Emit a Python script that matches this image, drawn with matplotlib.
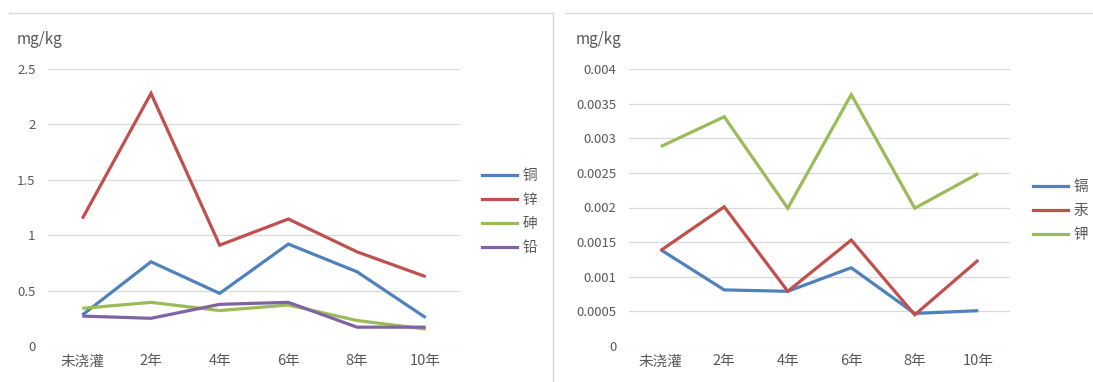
import matplotlib
matplotlib.use("Agg")
import matplotlib.pyplot as plt
from matplotlib.lines import Line2D

plt.rcParams['font.family'] = ['Noto Sans CJK SC', 'DejaVu Sans']

# Categories (years of irrigation)
categories = ["未浇灌", "2年", "4年", "6年", "8年", "10年"]

# Left panel: heavy metals, mg/kg
left_names = ["铜", "锌", "砷", "铅"]
copper = [0.28, 0.76, 0.475, 0.92, 0.67, 0.256]
zinc = [1.15, 2.28, 0.91, 1.146, 0.85, 0.626]
arsenic = [0.34, 0.394, 0.32, 0.37, 0.23, 0.153]
lead = [0.27, 0.25, 0.376, 0.394, 0.17, 0.17]
left_series = [copper, zinc, arsenic, lead]
left_ticks = [0, 0.5, 1, 1.5, 2, 2.5]
left_ticklabels = ["0", "0.5", "1", "1.5", "2", "2.5"]

# Right panel: trace elements, mg/kg
right_names = ["镉", "汞", "钾"]
cadmium = [0.00139, 0.00081, 0.00079, 0.00113, 0.00047, 0.00051]
mercury = [0.00138, 0.00201, 0.00079, 0.00153, 0.00045, 0.00124]
potassium = [0.00288, 0.00331, 0.00199, 0.00363, 0.00199, 0.00249]
right_series = [cadmium, mercury, potassium]
right_ticks = [0, 0.0005, 0.001, 0.0015, 0.002, 0.0025, 0.003, 0.0035, 0.004]
right_ticklabels = ["0", "0.0005", "0.001", "0.0015", "0.002",
                    "0.0025", "0.003", "0.0035", "0.004"]

left_colors = ["#4f81bd", "#c0504d", "#9bbb59", "#8064a2"]
right_colors = ["#4f81bd", "#c0504d", "#9bbb59"]

W, H = 1093, 382
fig = plt.figure(figsize=(W / 100, H / 100), dpi=100)
fig.patch.set_facecolor("white")

TEXT = "#595959"
GRID = "#d9d9d9"


def px_rect(x0, y_top, x1, y_bot):
    return [x0 / W, 1 - y_bot / H, (x1 - x0) / W, (y_bot - y_top) / H]


def draw_panel(rect, series, names, colors, ticks, ticklabels, unit_x, legend_x,
               legend_y):
    ax = fig.add_axes(rect)
    xs = range(len(categories))
    for vals, name, c in zip(series, names, colors):
        ax.plot(xs, vals, color=c, lw=2.3, label=name, solid_joinstyle="miter",
                solid_capstyle="butt")
    ax.set_xlim(-0.5, len(categories) - 0.5)
    ax.set_ylim(ticks[0], ticks[-1])
    ax.set_yticks(ticks)
    ax.set_yticklabels(ticklabels)
    ax.set_xticks(list(xs))
    ax.set_xticklabels(categories)
    ax.tick_params(axis="y", length=0, pad=9, labelsize=9.5, labelcolor=TEXT)
    ax.tick_params(axis="x", length=0, pad=6, labelsize=10.5, labelcolor=TEXT)
    ax.grid(axis="y", color=GRID, lw=0.9)
    ax.set_axisbelow(True)
    for s in ax.spines.values():
        s.set_visible(False)
    fig.text(unit_x / W, 1 - 40 / H, "mg/kg", fontsize=11, color=TEXT,
             ha="left", va="center")
    handles = [Line2D([], [], color=c, lw=2.3) for c in colors]
    leg = ax.legend(handles, names, loc="center left",
                    bbox_to_anchor=(legend_x / W, 1 - legend_y / H),
                    bbox_transform=fig.transFigure, frameon=False,
                    fontsize=10.5, handlelength=2.4, handletextpad=0.4,
                    labelspacing=0.68, borderpad=0, borderaxespad=0)
    for t in leg.get_texts():
        t.set_color(TEXT)
    return ax


draw_panel(px_rect(48, 69, 460, 346), left_series, left_names, left_colors,
           left_ticks, left_ticklabels, 17, 482, 212)
draw_panel(px_rect(629, 69, 1010, 346), right_series, right_names, right_colors,
           right_ticks, right_ticklabels, 576, 1033, 211)

# Panel frames
frame = "#d9d9d9"
fig.add_artist(Line2D([9 / W, 553 / W], [1 - 13 / H, 1 - 13 / H],
                      color=frame, lw=1.0, transform=fig.transFigure))
fig.add_artist(Line2D([553 / W, 553 / W], [1 - 13 / H, 0],
                      color=frame, lw=1.0, transform=fig.transFigure))
fig.add_artist(Line2D([565 / W, 1.0], [1 - 13 / H, 1 - 13 / H],
                      color=frame, lw=1.0, transform=fig.transFigure))

fig.savefig("out.png", dpi=100)
